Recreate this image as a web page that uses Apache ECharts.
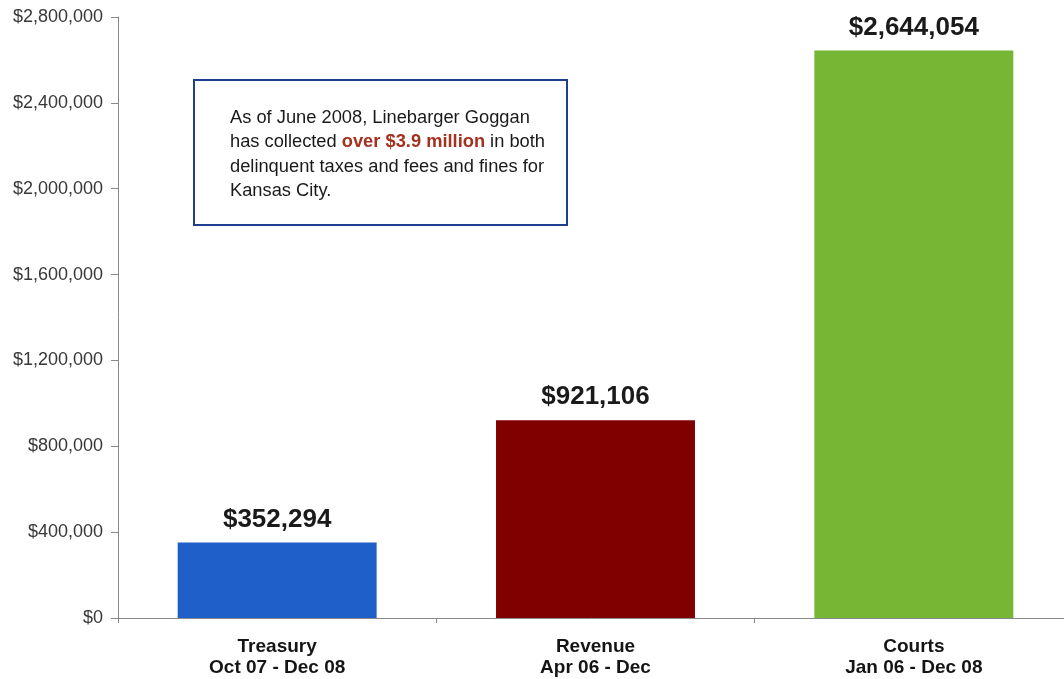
<!DOCTYPE html>
<html>
<head>
<meta charset="utf-8">
<title>Kansas City Collections</title>
<script src="https://cdn.jsdelivr.net/npm/echarts@6/dist/echarts.min.js"></script>
<style>
  html, body { margin: 0; padding: 0; background: #ffffff; }
  #chart { width: 1064px; height: 679px; }
</style>
</head>
<body>
<div id="chart"></div>
<script>
// Collections by department, with the period each figure covers
const categories = ['Treasury\nOct 07 - Dec 08', 'Revenue\nApr 06 - Dec', 'Courts\nJan 06 - Dec 08'];
const collected = [352294, 921106, 2644054];
const barColors = ['#1f5fc9', '#800000', '#77b535'];
const yTicks = { min: 0, max: 2800000, interval: 400000 };

const fmtMoney = v => '$' + Math.round(v).toLocaleString('en-US');
const FONT = 'Liberation Sans, Arial, sans-serif';

const chart = echarts.init(document.getElementById('chart'));
chart.setOption({
  backgroundColor: '#ffffff',
  animation: false,
  // plot area runs slightly past the right edge of the page
  grid: {
    left: 118, width: 955, top: 17, bottom: 61,
    containLabel: false,
    outerBoundsMode: 'none'
  },
  xAxis: {
    type: 'category',
    data: categories,
    boundaryGap: true,
    axisLine: { lineStyle: { color: '#8a8a8a', width: 1 } },
    axisTick: { show: true, length: 5, alignWithLabel: false, lineStyle: { color: '#8a8a8a' } },
    axisLabel: {
      margin: 19,
      fontFamily: FONT,
      fontSize: 19,
      fontWeight: 'bold',
      color: '#151515',
      lineHeight: 20.5
    },
    splitLine: { show: false }
  },
  yAxis: {
    type: 'value',
    min: yTicks.min,
    max: yTicks.max,
    interval: yTicks.interval,
    axisLine: { show: true, lineStyle: { color: '#8a8a8a', width: 1 } },
    axisTick: { show: true, length: 7, lineStyle: { color: '#8a8a8a' } },
    axisLabel: {
      margin: 15,
      fontFamily: FONT,
      fontSize: 18,
      color: '#383838',
      formatter: fmtMoney
    },
    splitLine: { show: false }
  },
  series: [{
    type: 'bar',
    barWidth: '62.5%',
    data: collected.map((v, i) => ({ value: v, itemStyle: { color: barColors[i] } })),
    label: {
      show: true,
      position: 'top',
      distance: 10,
      fontFamily: FONT,
      fontSize: 26,
      fontWeight: 'bold',
      color: '#1a1a1a',
      formatter: p => fmtMoney(p.value)
    }
  }],
  graphic: [
    {
      type: 'rect',
      shape: { x: 194, y: 80, width: 373, height: 145 },
      style: { fill: '#ffffff', stroke: '#1d3f8f', lineWidth: 2 },
      z: 10
    },
    {
      type: 'text',
      left: 230,
      top: 106,
      z: 11,
      style: {
        text: 'As of June 2008, Linebarger Goggan\nhas collected {hl|over $3.9 million} in both\ndelinquent taxes and fees and fines for\nKansas City.',
        fontFamily: FONT,
        fontSize: 18.3,
        lineHeight: 24.3,
        fill: '#1a1a1a',
        rich: {
          hl: {
            fontFamily: FONT,
            fontSize: 18.3,
            fontWeight: 'bold',
            lineHeight: 24.3,
            fill: '#a3321f'
          }
        }
      }
    }
  ]
});
</script>
</body>
</html>
